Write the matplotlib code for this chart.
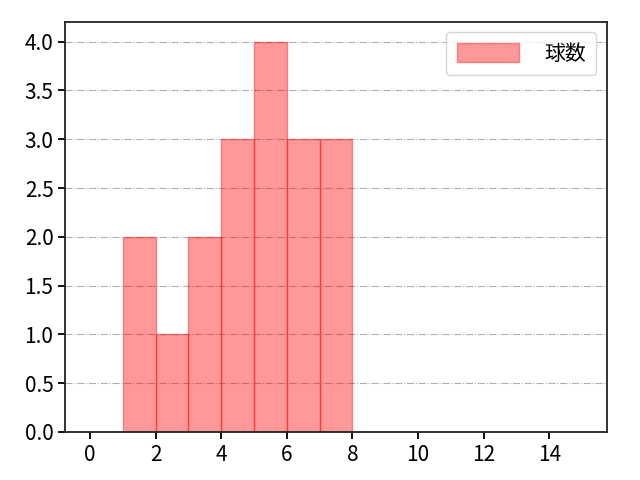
import matplotlib
matplotlib.use("Agg")
import matplotlib.pyplot as plt

plt.rcParams['font.family'] = ['Noto Sans CJK JP', 'DejaVu Sans']

# 球数ごとの度数 (ビン左端と高さ)
bin_left = [1, 2, 3, 4, 5, 6, 7]
counts = [2, 1, 2, 3, 4, 3, 3]
label = "球数"

fig, ax = plt.subplots(figsize=(6.4, 4.8), dpi=100)
ax.bar(bin_left, counts, width=1.0, align='edge', color='red', alpha=0.4,
       edgecolor='red', linewidth=1.0, label=label)
ax.set_xlim(-0.75, 15.75)
ax.set_xticks(range(0, 16, 2))
ax.set_yticks([0, 0.5, 1.0, 1.5, 2.0, 2.5, 3.0, 3.5, 4.0])
ax.yaxis.grid(True, linestyle='-.', color='#b0b0b0')
ax.set_axisbelow(True)
for s in ax.spines.values():
    s.set_linewidth(1.3)
    s.set_color('#222222')
ax.tick_params(labelsize=15, width=1.3, length=5)
ax.legend(fontsize=15, loc='upper right', handlelength=3.0, handleheight=1.0,
          borderpad=0.5, handletextpad=1.2)
plt.subplots_adjust(left=0.102, right=0.948, top=0.954, bottom=0.1)
plt.savefig("out.png")
